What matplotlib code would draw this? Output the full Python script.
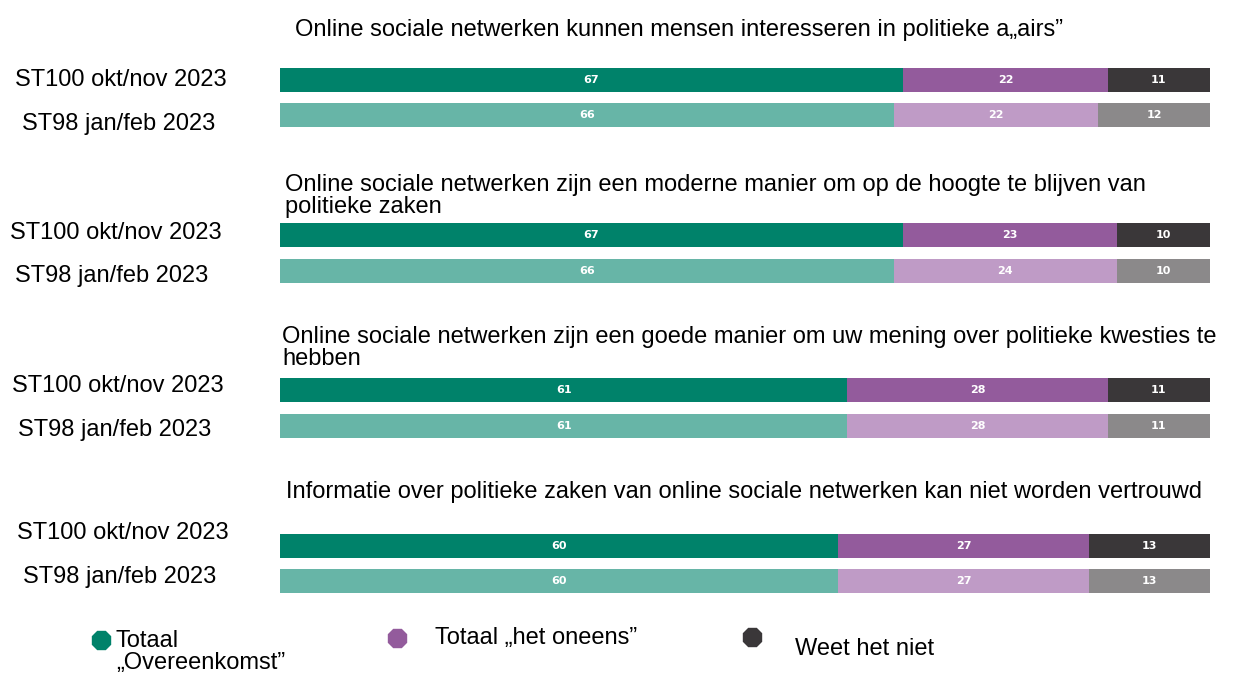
import matplotlib.pyplot as plt
import numpy as np

plt.rcParams['font.family'] = ['Liberation Sans', 'DejaVu Sans']

# data
titles = [
    "Online sociale netwerken kunnen mensen interesseren in politieke a\u201eairs\u201d",
    "Online sociale netwerken zijn een moderne manier om op de hoogte te blijven van\npolitieke zaken",
    "Online sociale netwerken zijn een goede manier om uw mening over politieke kwesties te\nhebben",
    "Informatie over politieke zaken van online sociale netwerken kan niet worden vertrouwd",
]
waves = ["ST100 okt/nov 2023", "ST98 jan/feb 2023"]
agree_new = [67, 67, 61, 60]
agree_old = [66, 66, 61, 60]
disagree_new = [22, 23, 28, 27]
disagree_old = [22, 24, 28, 27]
dk_new = [11, 10, 11, 13]
dk_old = [12, 10, 11, 13]
legend_labels = ["Totaal\n\u201eOvereenkomst\u201d", "Totaal \u201ehet oneens\u201d", "Weet het niet"]

# colours: (dark, light) per answer
c_agree = ("#00826A", "#67B5A7")
c_dis = ("#935B9C", "#BF9BC6")
c_dk = ("#3A3739", "#8B898A")

W, H = 1238, 678
fig = plt.figure(figsize=(W / 100, H / 100), dpi=100)
ax = fig.add_axes([280 / W, 0, 930 / W, 1])
ax.set_xlim(0, 100)
ax.set_ylim(H, 0)  # pixel rows, top down
ax.axis('off')

# layout (pixel rows)
bar_y = [(80, 115), (235, 271), (390, 426), (546, 581)]
title_pos = [(295, 30), (285, 196), (282, 348), (286, 492)]
wave_pos = [((15, 80), (22, 124)), ((10, 233), (15, 276)),
            ((12, 386), (18, 430)), ((17, 533), (23, 577))]
FS = 17

def px(x, y):
    return x / W, 1 - y / H

for i in range(4):
    for j, (a, d, k) in enumerate([(agree_new[i], disagree_new[i], dk_new[i]),
                                   (agree_old[i], disagree_old[i], dk_old[i])]):
        y = bar_y[i][j]
        lefts = np.cumsum([0, a, d])[:3]
        vals = [a, d, k]
        cols = [c_agree[j], c_dis[j], c_dk[j]]
        ax.barh(y, vals, left=lefts, height=24, color=cols, edgecolor='none')
        for l, v in zip(lefts, vals):
            ax.text(l + v / 2, y, str(v), color='white', fontsize=8,
                    fontweight='bold', family='DejaVu Sans', ha='center', va='center')
        fig.text(*px(*wave_pos[i][j]), waves[j], fontsize=FS, ha='left', va='center')
    fig.text(*px(*title_pos[i]), titles[i], fontsize=FS, ha='left', va='center',
             linespacing=0.95)

# legend
leg_marks = [(101, 640), (397, 638), (752, 637)]
leg_text = [(116, 652), (435, 638), (795, 649)]
for lab, col, (mx, my), (tx, ty) in zip(legend_labels, [c_agree[0], c_dis[0], c_dk[0]],
                                       leg_marks, leg_text):
    fig.lines.append(plt.Line2D([mx / W], [1 - my / H], marker='8', markersize=14,
                                color=col, transform=fig.transFigure, linestyle='none'))
    fig.text(*px(tx, ty), lab, fontsize=FS, ha='left', va='center', linespacing=0.95)

fig.savefig("out.png", dpi=100)
